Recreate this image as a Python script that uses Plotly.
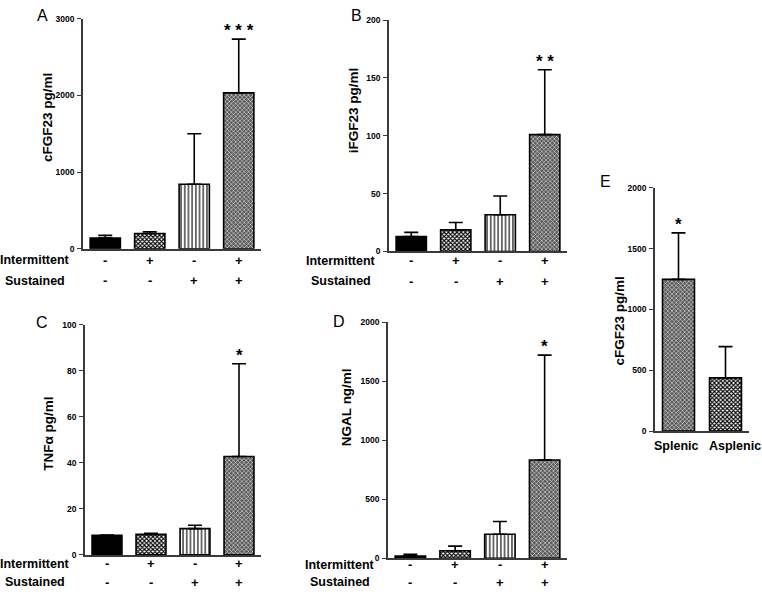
import plotly.graph_objects as go

# ---------------- data ----------------
groups = ["Control", "Intermittent", "Sustained", "Both"]
intermittent_signs = ["-", "+", "-", "+"]
sustained_signs = ["-", "-", "+", "+"]

cfgf23_mean = [141, 200, 842, 2034]
cfgf23_err = [34, 22, 658, 701]
cfgf23_stars = ["", "", "", "* * *"]

ifgf23_mean = [13, 18.7, 31.8, 101]
ifgf23_err = [3.5, 6.3, 16.2, 56]
ifgf23_stars = ["", "", "", "* *"]

tnfa_mean = [8.5, 8.9, 11.4, 42.7]
tnfa_err = [0.1, 0.5, 1.5, 40.3]
tnfa_stars = ["", "", "", "*"]

ngal_mean = [19, 64, 203, 833]
ngal_err = [14, 39, 108, 889]
ngal_stars = ["", "", "", "*"]

spleen_groups = ["Splenic", "Asplenic"]
spleen_mean = [1247, 437]
spleen_err = [383, 257]
spleen_stars = ["*", ""]

# ---------------- styling ----------------
W, H = 762, 595
FONT = "Liberation Sans"
AXC = "#3a3a3a"


def dx(a, b):
    return [a / W, b / W]


def dy(top, bottom):
    return [1 - bottom / H, 1 - top / H]


STYLE = {
    "solid": dict(color="black", pattern=None),
    "check": dict(color="white", pattern=dict(shape="x", bgcolor="white", fgcolor="black",
                                              size=3, solidity=0.6, fillmode="replace")),
    "vert": dict(color="white", pattern=dict(shape="|", bgcolor="white", fgcolor="black",
                                             size=3.7, solidity=0.3, fillmode="replace")),
    "gray": dict(color="#5a5a5a", pattern=dict(shape="x", bgcolor="#5a5a5a", fgcolor="white",
                                               size=3, solidity=0.3, fillmode="replace")),
}

panels = [
    dict(letter="A", x=groups, mean=cfgf23_mean, err=cfgf23_err, stars=cfgf23_stars,
         title="cFGF23 pg/ml", ymax=3000, dtick=1000, xd=(83, 261), yd=(14, 248),
         styles=["solid", "check", "vert", "gray"], letter_pos=(42, 11), title_pos=(47, 115),
         signs=True, lab_x=35, row1=259.5, row2=280.5),
    dict(letter="B", x=groups, mean=ifgf23_mean, err=ifgf23_err, stars=ifgf23_stars,
         title="iFGF23 pg/ml", ymax=200, dtick=50, xd=(389, 567), yd=(15.3, 250.7),
         styles=["solid", "check", "vert", "gray"], letter_pos=(356, 11), title_pos=(353, 107),
         signs=True, lab_x=341, row1=260, row2=281),
    dict(letter="C", x=groups, mean=tnfa_mean, err=tnfa_err, stars=tnfa_stars,
         title="TNFα pg/ml", ymax=100, dtick=20, xd=(85, 261), yd=(325, 559.3),
         styles=["solid", "check", "vert", "gray"], letter_pos=(42, 323), title_pos=(49, 436),
         signs=True, lab_x=35, row1=568.5, row2=587),
    dict(letter="D", x=groups, mean=ngal_mean, err=ngal_err, stars=ngal_stars,
         title="NGAL ng/ml", ymax=2000, dtick=500, xd=(388, 567), yd=(322.7, 562.7),
         styles=["solid", "check", "vert", "gray"], letter_pos=(339, 322), title_pos=(346, 409),
         signs=True, lab_x=340, row1=569.5, row2=587),
    dict(letter="E", x=spleen_groups, mean=spleen_mean, err=spleen_err, stars=spleen_stars,
         title="cFGF23 pg/ml", ymax=2000, dtick=500, xd=(655, 749), yd=(186, 433.3),
         styles=["gray", "check"], letter_pos=(605, 180), title_pos=(620, 322),
         signs=False, cat_label_x=[676.5, 735], cat_label_y=449),
]

fig = go.Figure()
annotations = []

for i, p in enumerate(panels):
    n = i + 1
    xa = "x" if n == 1 else f"x{n}"
    ya = "y" if n == 1 else f"y{n}"
    for xc, m, e, sname in zip(p["x"], p["mean"], p["err"], p["styles"]):
        s = STYLE[sname]
        marker = dict(color=s["color"], line=dict(color="black", width=1.6))
        if s["pattern"]:
            marker["pattern"] = s["pattern"]
        fig.add_trace(go.Bar(
            x=[xc], y=[m], xaxis=xa, yaxis=ya, width=0.68, marker=marker,
            error_y=dict(type="data", symmetric=False, array=[e], arrayminus=[0],
                         color="black", thickness=1.6, width=7),
            showlegend=False, hoverinfo="skip",
        ))
    xkey = "xaxis" if n == 1 else f"xaxis{n}"
    ykey = "yaxis" if n == 1 else f"yaxis{n}"
    ncat = len(p["x"])
    fig.layout[xkey] = dict(
        domain=dx(*p["xd"]), anchor=ya, range=[-0.5, ncat - 0.5],
        categoryorder="array", categoryarray=p["x"],
        showline=True, linecolor=AXC, linewidth=1.6, ticks="",
        showticklabels=False, showgrid=False, zeroline=False, fixedrange=True,
    )
    fig.layout[ykey] = dict(
        domain=dy(*p["yd"]), anchor=xa, range=[0, p["ymax"]], dtick=p["dtick"],
        showline=True, linecolor=AXC, linewidth=1.6, ticks="outside", ticklen=4,
        tickwidth=1.4, tickcolor=AXC, showgrid=False, zeroline=False,
        tickfont=dict(family=FONT, size=8.5, color="black", weight="bold"),
        ticklabelstandoff=1, fixedrange=True,
    )
    lx, lyy = p["letter_pos"]
    annotations.append(dict(text=p["letter"], xref="paper", yref="paper",
                            x=lx / W, y=1 - lyy / H, xanchor="center", yanchor="middle",
                            showarrow=False, font=dict(family=FONT, size=16, color="black")))
    tx, ty = p["title_pos"]
    annotations.append(dict(text=p["title"], xref="paper", yref="paper",
                            x=tx / W, y=1 - ty / H, xanchor="center", yanchor="middle",
                            textangle=-90, showarrow=False,
                            font=dict(family=FONT, size=13.5, color="black", weight="bold")))
    for xc, m, e, s in zip(p["x"], p["mean"], p["err"], p["stars"]):
        if s:
            annotations.append(dict(text=s, xref=xa, yref=ya, x=xc, y=m + e,
                                    xanchor="center", yanchor="bottom", yshift=-3,
                                    showarrow=False,
                                    font=dict(family=FONT, size=17, color="black", weight="bold")))
    if p["signs"]:
        for label, row, signs in (("Intermittent", p["row1"], intermittent_signs),
                                  ("Sustained", p["row2"], sustained_signs)):
            annotations.append(dict(text=label, xref="paper", yref="paper",
                                    x=p["lab_x"] / W, y=1 - row / H, xanchor="center",
                                    yanchor="middle", showarrow=False,
                                    font=dict(family=FONT, size=12.5, color="black", weight="bold")))
            for xc, sg in zip(p["x"], signs):
                annotations.append(dict(text=sg, xref=xa, yref="paper", x=xc, y=1 - row / H,
                                        xanchor="center", yanchor="middle", showarrow=False,
                                        font=dict(family=FONT, size=13, color="black", weight="bold")))
    else:
        for cat, cx in zip(p["x"], p["cat_label_x"]):
            annotations.append(dict(text=cat, xref="paper", yref="paper",
                                    x=cx / W, y=1 - p["cat_label_y"] / H, xanchor="center",
                                    yanchor="middle", showarrow=False,
                                    font=dict(family=FONT, size=12.5, color="black", weight="bold")))

fig.update_layout(
    width=W, height=H, margin=dict(l=0, r=0, t=0, b=0),
    paper_bgcolor="white", plot_bgcolor="white",
    annotations=annotations, barmode="overlay",
)

fig.write_html("out.html", config={"displayModeBar": False},
               post_script="document.body.style.margin='0px';document.body.style.overflow='hidden';")
